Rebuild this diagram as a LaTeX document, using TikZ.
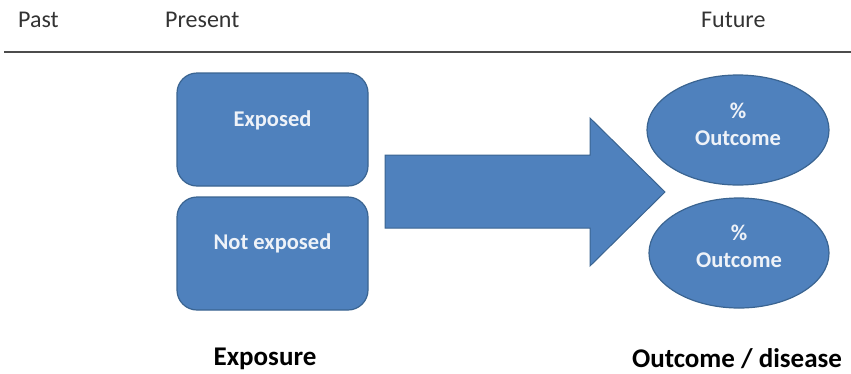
\documentclass[tikz,border=0pt]{standalone}
\usepackage{fontspec}
\setmainfont{Carlito}
\usetikzlibrary{shapes.geometric,shapes.arrows}
\definecolor{boxfill}{HTML}{4F81BD}
\definecolor{boxedge}{HTML}{3A6491}
\definecolor{boxtext}{HTML}{EEF2F8}
\begin{document}
\begin{tikzpicture}[x=1pt,y=-1pt,
  shapestyle/.style={fill=boxfill,draw=boxedge,line width=1.2pt},
  boxstyle/.style={shapestyle,rounded corners=20pt},
  intext/.style={text=boxtext,font=\fontsize{22.5}{22.5}\selectfont\bfseries,inner sep=0pt,anchor=base},
  header/.style={font=\fontsize{24}{24}\selectfont,text=black!80,inner sep=0pt,anchor=base west},
  footer/.style={font=\fontsize{27}{27}\selectfont\bfseries,text=black,inner sep=0pt,anchor=base}]
\useasboundingbox (0,0) rectangle (851,373);
% header
\node[header] (past) at (18,27) {Past};
\node[header] (present) at (165,27) {Present};
\node[header] (future) at (701,27) {Future};
\draw[line width=2pt,black!70] (4,52) -- (851,52);
% boxes
\draw[boxstyle] (177,73) rectangle (368,186);
\node[intext] (exposed) at (272.5,126) {Exposed};
\draw[boxstyle] (177,197) rectangle (368,310);
\node[intext] (notexposed) at (272.5,249) {Not exposed};
% arrow
\draw[shapestyle,line width=1pt] (385,155) -- (590,155) -- (590,118) -- (665,192) -- (590,266) -- (590,228) -- (385,228) -- cycle;
% ellipses
\draw[shapestyle] (738,130) ellipse [x radius=91, y radius=55];
\node[intext] (pct1) at (738,118) {\%};
\node[intext] (out1) at (738,145) {Outcome};
\draw[shapestyle] (739,253) ellipse [x radius=90, y radius=55];
\node[intext] (pct2) at (739,240) {\%};
\node[intext] (out2) at (739,267) {Outcome};
% footer
\node[footer] (exposure) at (265,365) {Exposure};
\node[footer] (outcome) at (737,367) {Outcome / disease};
\end{tikzpicture}
\end{document}
